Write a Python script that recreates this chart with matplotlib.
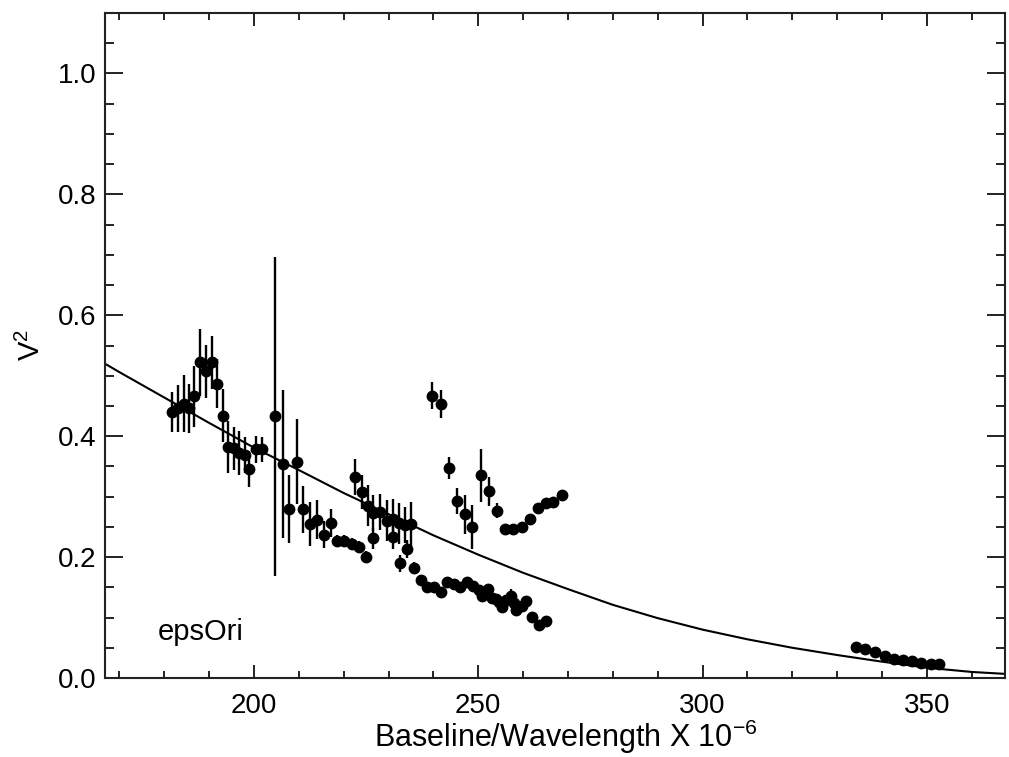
import matplotlib
matplotlib.use("Agg")
import matplotlib.pyplot as plt
from matplotlib.ticker import MultipleLocator

plt.rcParams['font.family'] = ['Liberation Sans', 'DejaVu Sans']
plt.rcParams['mathtext.fontset'] = 'custom'
plt.rcParams['mathtext.rm'] = 'Liberation Sans'
plt.rcParams['mathtext.it'] = 'Liberation Sans'

# ---- data: measured V^2 with 1-sigma errors ----
x_upper = [181.8, 183.1, 184.4, 185.6, 186.7, 188.0, 189.3, 190.6, 191.8, 193.0,
           194.3, 195.5, 196.7, 198.0, 198.9, 200.4, 201.7, 204.8,
           206.4, 207.9, 209.5, 211.0, 212.5, 214.0, 215.6, 217.1,
           222.5, 224.1, 225.5, 226.6, 228.1, 229.6, 230.9, 232.4, 233.7, 234.9,
           226.5, 231.0, 232.5, 234.2]
y_upper = [0.440, 0.446, 0.454, 0.446, 0.466, 0.522, 0.507, 0.522, 0.487, 0.434,
           0.382, 0.380, 0.372, 0.369, 0.346, 0.378, 0.378, 0.433,
           0.354, 0.279, 0.358, 0.279, 0.255, 0.262, 0.237, 0.257,
           0.333, 0.308, 0.285, 0.2735, 0.275, 0.260, 0.2625, 0.256, 0.253, 0.255,
           0.231, 0.233, 0.190, 0.213]
e_upper = [0.033, 0.039, 0.047, 0.041, 0.050, 0.055, 0.044, 0.044, 0.040, 0.044,
           0.043, 0.036, 0.036, 0.030, 0.030, 0.023, 0.021, 0.264,
           0.122, 0.056, 0.070, 0.039, 0.036, 0.032, 0.022, 0.023,
           0.030, 0.028, 0.034, 0.030, 0.030, 0.034, 0.034, 0.034, 0.030, 0.036,
           0.017, 0.020, 0.014, 0.015]

x_mid = [218.6, 220.1, 221.8, 223.4, 225.0, 235.7, 237.2, 238.6, 240.1, 241.6,
         243.1, 244.5, 246.0, 247.5, 248.9, 250.2, 250.9, 252.2, 253.0, 253.9,
         254.6, 255.2, 256.2, 257.2, 257.9, 258.5, 259.8, 260.6, 261.9, 263.5, 265.1]
y_mid = [0.227, 0.227, 0.222, 0.216, 0.200, 0.182, 0.162, 0.150, 0.151, 0.142,
         0.159, 0.156, 0.150, 0.159, 0.153, 0.145, 0.135, 0.147, 0.133, 0.131,
         0.126, 0.118, 0.129, 0.136, 0.124, 0.112, 0.119, 0.128, 0.101, 0.088, 0.094]
e_mid = [0.010, 0.010, 0.010, 0.010, 0.010, 0.010, 0.008, 0.008, 0.008, 0.008,
         0.006, 0.006, 0.006, 0.006, 0.006, 0.006, 0.006, 0.006, 0.006, 0.006,
         0.006, 0.006, 0.006, 0.012, 0.006, 0.006, 0.006, 0.006, 0.006, 0.006, 0.006]

x_high = [239.7, 241.6, 243.5, 245.3, 247.0, 248.7, 250.5, 252.4, 254.1,
          255.9, 257.8, 259.7, 261.5, 263.2, 265.1, 266.7, 268.6]
y_high = [0.467, 0.453, 0.348, 0.293, 0.271, 0.250, 0.335, 0.309, 0.277,
          0.247, 0.247, 0.250, 0.263, 0.282, 0.289, 0.291, 0.302]
e_high = [0.022, 0.023, 0.018, 0.021, 0.032, 0.036, 0.044, 0.024, 0.013,
          0.006, 0.006, 0.006, 0.006, 0.006, 0.006, 0.006, 0.006]

x_far = [334.3, 336.3, 338.4, 340.6, 342.7, 344.7, 346.7, 348.7, 350.8, 352.6]
y_far = [0.051, 0.0475, 0.0436, 0.037, 0.031, 0.029, 0.0286, 0.025, 0.0235, 0.023]
e_far = [0.003] * 10

# model curve
x_model = [167, 170, 180, 190, 200, 210, 220, 230, 240, 250, 260, 270, 280, 290,
           300, 310, 320, 330, 340, 350, 360, 367]
y_model = [0.519, 0.506, 0.464, 0.422, 0.381, 0.344, 0.306, 0.271, 0.236, 0.204,
           0.174, 0.147, 0.121, 0.099, 0.080, 0.064, 0.050, 0.038, 0.027, 0.017,
           0.010, 0.007]

label_text = "epsOri"

fig = plt.figure(figsize=(10.09, 7.57), dpi=100)
ax = fig.add_axes([105/1009, 1 - 678/757, 900/1009, 665/757])

ax.plot(x_model, y_model, color='black', lw=1.5, zorder=2)
for xs, ys, es in [(x_upper, y_upper, e_upper), (x_mid, y_mid, e_mid),
                   (x_high, y_high, e_high), (x_far, y_far, e_far)]:
    ax.errorbar(xs, ys, yerr=es, fmt='o', color='black', ms=7.5,
                elinewidth=1.7, capsize=0, zorder=3)

ax.text(178.6, 0.076, label_text, fontsize=21, va='center', ha='left')

ax.set_xlim(166.8, 367.4)
ax.set_ylim(0.0, 1.1)
ax.xaxis.set_major_locator(MultipleLocator(50))
ax.xaxis.set_minor_locator(MultipleLocator(10))
ax.yaxis.set_major_locator(MultipleLocator(0.2))
ax.yaxis.set_minor_locator(MultipleLocator(0.05))
ax.yaxis.set_major_formatter(matplotlib.ticker.FormatStrFormatter('%.1f'))

ax.tick_params(axis='both', which='both', direction='in', top=True, right=True,
               labelsize=20, width=1.4, color='#222222')
ax.tick_params(axis='x', which='major', length=9.6, pad=11)
ax.tick_params(axis='x', which='minor', length=4.8)
ax.tick_params(axis='y', which='major', length=13, pad=6)
ax.tick_params(axis='y', which='minor', length=6.5)
for s in ax.spines.values():
    s.set_linewidth(1.5)
    s.set_color('#222222')

fig.text(566/1009, 1 - 747/757, r"Baseline/Wavelength X 10$^{-6}$", fontsize=22,
         ha='center', va='baseline')
fig.text(31/1009, 1 - 345/757, r"V$^2$", fontsize=21, rotation=90,
         ha='center', va='center')

fig.savefig("out.png", dpi=100)
